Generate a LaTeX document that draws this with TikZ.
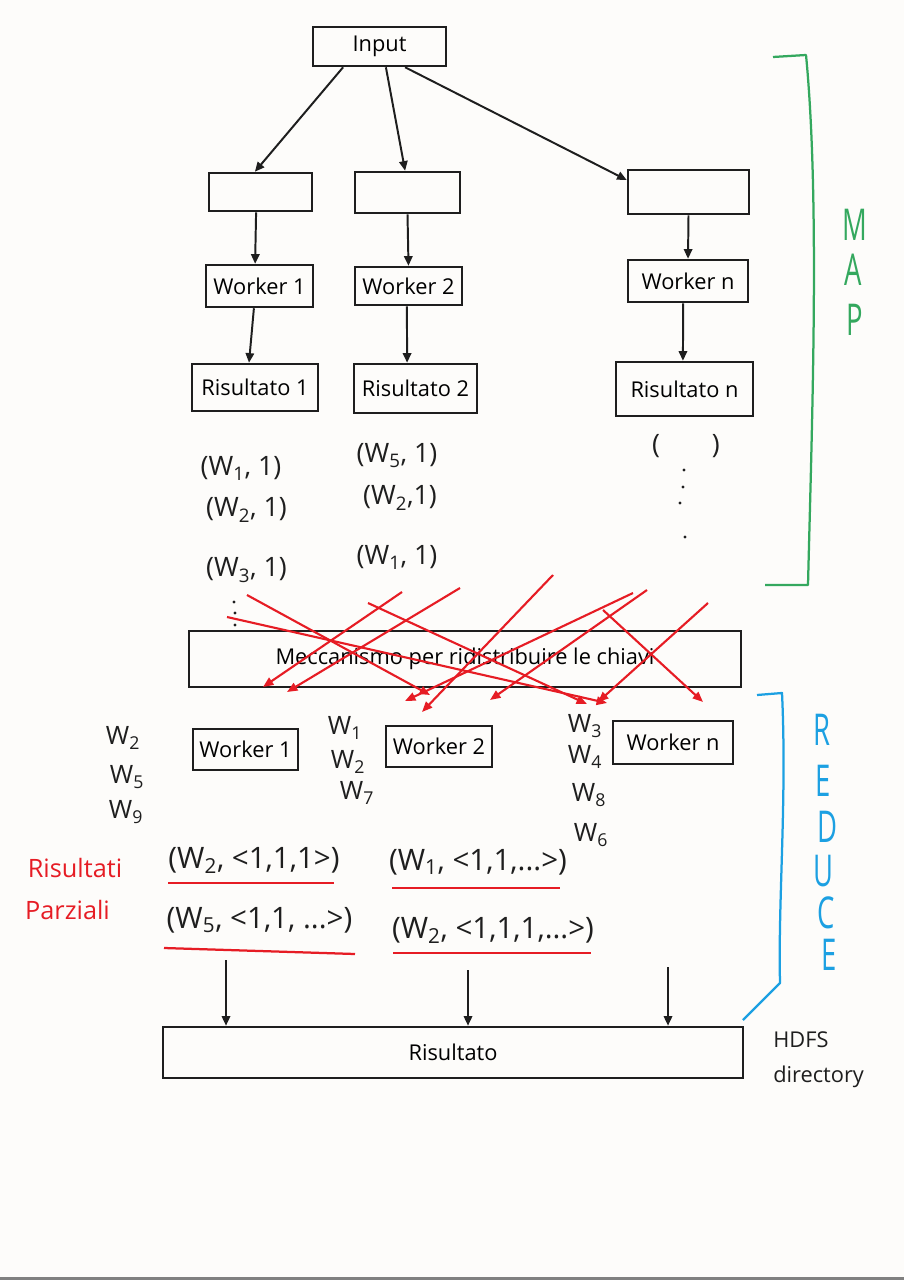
\documentclass[tikz,border=0pt]{standalone}
\usepackage{fontspec}
\setmainfont{Open Sans}
\usepackage{graphicx}
\usetikzlibrary{arrows.meta}

\definecolor{paper}{RGB}{253,252,250}
\definecolor{ink}{RGB}{30,30,30}
\definecolor{keyred}{RGB}{230,28,36}
\definecolor{mapgreen}{RGB}{52,168,94}
\definecolor{reduceblue}{RGB}{28,160,226}

\newcommand{\tallletter}[1]{\scalebox{0.75}[1.2]{#1}}

\begin{document}
\begin{tikzpicture}[
  x=0.025cm, y=-0.025cm,
  box/.style={draw=ink, line width=1.8pt, inner sep=0pt, align=center,
    font=\fontsize{15.5}{18}\selectfont},
  arrow/.style={-{Triangle[length=2.4mm,width=2.1mm]}, line width=1.4pt, ink},
  redarrow/.style={-{Triangle[length=2.6mm,width=2.1mm]}, line width=1.5pt, keyred},
  pair/.style={inner sep=0pt, text=ink, font=\fontsize{19}{20}\selectfont},
  partial/.style={pair, font=\fontsize{21}{22}\selectfont},
  key/.style={inner sep=0pt, text=ink, font=\fontsize{18}{20}\selectfont},
  underline/.style={keyred, line width=1.6pt},
  letter/.style={inner sep=0pt, font=\fontsize{26}{26}\selectfont},
  bracket/.style={line width=1.6pt, line join=round}
]

% Sheet
\fill[paper] (0,0) rectangle (904,1280);
\useasboundingbox (0,0) rectangle (904,1280);
\fill[gray] (0,1277) rectangle (904,1280);

% Input
\node[box, minimum width=3.325cm, minimum height=0.975cm] (input) at (379.5,46.5) {Input};

% Splits
\node[box, minimum width=2.575cm, minimum height=0.95cm] (split1) at (260.5,192) {};
\node[box, minimum width=2.625cm, minimum height=1.025cm] (split2) at (407.5,192.5) {};
\node[box, minimum width=3.025cm, minimum height=1.1cm] (splitn) at (688.5,192) {};

% Map workers
\node[box, minimum width=2.675cm, minimum height=1.05cm] (mapw1) at (259.5,286) {Worker 1};
\node[box, minimum width=2.675cm, minimum height=0.95cm] (mapw2) at (408.5,286) {Worker 2};
\node[box, minimum width=3cm, minimum height=1.05cm] (mapwn) at (688,281) {Worker n};

% Map results
\node[box, minimum width=3.15cm, minimum height=1.175cm] (res1) at (255,387.5) {Risultato 1};
\node[box, minimum width=3.075cm, minimum height=1.225cm] (res2) at (415.5,388.5) {Risultato 2};
\node[box, minimum width=3.425cm, minimum height=1.35cm] (resn) at (684.5,389) {Risultato n};

% Emitted pairs
\node[pair] (p11) at (241,468) {(W\textsubscript{1}, 1)};
\node[pair] (p12) at (246.5,510) {(W\textsubscript{2}, 1)};
\node[pair] (p13) at (246.5,570) {(W\textsubscript{3}, 1)};
\node[pair] (p21) at (397,456) {(W\textsubscript{5}, 1)};
\node[pair] (p22) at (400,498) {(W\textsubscript{2},1)};
\node[pair] (p23) at (397,557) {(W\textsubscript{1}, 1)};
\node[pair] (pn) at (686,446) {(\hspace{1.3cm})};
\fill[ink] (234,602) circle (1.2pt) (235,613) circle (1.2pt) (235,625) circle (1.2pt);
\fill[ink] (684,470) circle (1.2pt) (683,487) circle (1.2pt) (680,503) circle (1.2pt) (685,537) circle (1.2pt);

% Shuffle
\node[box, minimum width=13.8cm, minimum height=1.4cm] (shuffle) at (465,659) {Meccanismo per ridistribuire le chiavi};

% Reduce workers
\node[box, minimum width=2.625cm, minimum height=1.025cm] (redw1) at (245.5,749.5) {Worker 1};
\node[box, minimum width=2.65cm, minimum height=1.025cm] (redw2) at (439,746.5) {Worker 2};
\node[box, minimum width=3cm, minimum height=1.075cm] (redwn) at (673,742.5) {Worker n};

% Keys per reducer
\node[key] (k1a) at (123,738) {W\textsubscript{2}};
\node[key] (k1b) at (127,777) {W\textsubscript{5}};
\node[key] (k1c) at (126,812) {W\textsubscript{9}};
\node[key] (k2a) at (345,728) {W\textsubscript{1}};
\node[key] (k2b) at (348,762) {W\textsubscript{2}};
\node[key] (k2c) at (357,793) {W\textsubscript{7}};
\node[key] (kna) at (585,726) {W\textsubscript{3}};
\node[key] (knb) at (585,757) {W\textsubscript{4}};
\node[key] (knc) at (589,795) {W\textsubscript{8}};
\node[key] (knd) at (591,835) {W\textsubscript{6}};

% Partial results
\node[letter, font=\fontsize{18}{20}\selectfont, text=keyred] (partial1) at (75,868) {Risultati};
\node[letter, font=\fontsize{18}{20}\selectfont, text=keyred] (partial2) at (67.5,910) {Parziali};
\node[partial] (q1) at (254,860) {(W\textsubscript{2}, <1,1,1>)};
\node[partial] (q2) at (259.5,920) {(W\textsubscript{5}, <1,1, ...>)};
\node[partial] (q3) at (478,862) {(W\textsubscript{1}, <1,1,...>)};
\node[partial] (q4) at (493,930) {(W\textsubscript{2}, <1,1,1,...>)};
\draw[underline] (168,883) -- (334,883);
\draw[underline] (164,948) -- (355,954);
\draw[underline] (392,888) -- (560,888);
\draw[underline] (393,953) -- (591,953);

% Final output
\node[box, minimum width=14.5cm, minimum height=1.275cm] (final) at (453,1052.5) {Risultato};
\node[anchor=west, align=left, inner sep=0pt, text=ink, font=\fontsize{15.5}{25}\selectfont] (hdfs) at (773,1060) {HDFS\\directory};

% Arrows
\draw[arrow] ([xshift=-0.91cm]input.south) -- ([xshift=-0.14cm]split1.north);
\draw[arrow] ([xshift=0.16cm]input.south) -- ([xshift=-0.06cm]split2.north);
\draw[arrow] ([xshift=0.64cm]input.south) -- ([yshift=0.3cm]splitn.west);
\draw[arrow] ([xshift=-0.11cm]split1.south) -- ([xshift=-0.11cm]mapw1.north);
\draw[arrow] (split2.south) -- (mapw2.north);
\draw[arrow] (splitn.south) -- (mapwn.north);
\draw[arrow] ([xshift=-0.14cm]mapw1.south) -- ([xshift=-0.15cm]res1.north);
\draw[arrow] ([xshift=-0.04cm]mapw2.south) -- ([xshift=-0.21cm]res2.north);
\draw[arrow] ([xshift=-0.12cm]mapwn.south) -- ([xshift=-0.04cm]resn.north);

% Shuffled keys
\foreach \sx/\sy/\ex/\ey in {247/595/430/695, 227/617/607/703, 402/592/263/687,
    460/588/287/692, 368/603/587/704, 647/590/490/700, 633/593/405/701,
    553/575/422/712, 603/610/703/702, 708/603/598/702}
  \draw[redarrow] (\sx,\sy) -- (\ex,\ey);

% Into the result
\coordinate (from1) at (226,960);
\coordinate (from2) at (468,970);
\coordinate (fromn) at (668,967);
\draw[arrow] (from1) -- (from1 |- final.north);
\draw[arrow] (from2) -- (from2 |- final.north);
\draw[arrow] (fromn) -- (fromn |- final.north);

% Phases
\draw[bracket, mapgreen] (773,57) -- (806,55) .. controls (820,200) and (812,420) .. (808,585) -- (765,585);
\node[letter, text=mapgreen] (mapM) at (855,225) {\tallletter{M}};
\node[letter, text=mapgreen] (mapA) at (853,270) {\tallletter{A}};
\node[letter, text=mapgreen] (mapP) at (855,320) {\tallletter{P}};

\draw[bracket, reduceblue] (757,695) -- (782,693) .. controls (787,800) and (778,900) .. (780,983) -- (743,1020);
\node[letter, text=reduceblue] (redR) at (822,730) {\tallletter{R}};
\node[letter, text=reduceblue] (redE) at (823,781) {\tallletter{E}};
\node[letter, text=reduceblue] (redD) at (827,827) {\tallletter{D}};
\node[letter, text=reduceblue] (redU) at (823,871) {\tallletter{U}};
\node[letter, text=reduceblue] (redC) at (826,913) {\tallletter{C}};
\node[letter, text=reduceblue] (redE2) at (829,955) {\tallletter{E}};

\end{tikzpicture}
\end{document}
